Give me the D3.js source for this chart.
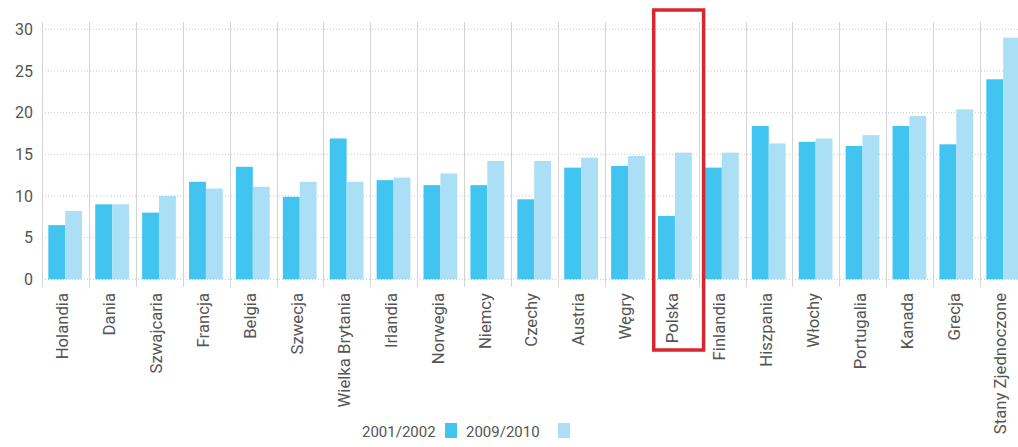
<!DOCTYPE html>
<html><head><meta charset="utf-8">
<script src="https://cdn.jsdelivr.net/npm/d3@7"></script>
<style>body{margin:0;background:#fff}svg{display:block}</style>
</head><body><svg id="c" width="1018" height="447"></svg>
<script>
const categories = ["Holandia","Dania","Szwajcaria","Francja","Belgia","Szwecja","Wielka Brytania","Irlandia","Norwegia","Niemcy","Czechy","Austria","Węgry","Polska","Finlandia","Hiszpania","Włochy","Portugalia","Kanada","Grecja","Stany Zjednoczone"];
const seriesNames = ["2001/2002","2009/2010"];
const values2001 = [6.5,9.0,8.0,11.7,13.5,9.9,16.9,11.9,11.3,11.3,9.6,13.4,13.6,7.6,13.4,18.4,16.5,16.0,18.4,16.2,24.0];
const values2009 = [8.2,9.0,10.0,10.9,11.1,11.7,11.7,12.2,12.7,14.2,14.2,14.6,14.8,15.2,15.2,16.3,16.9,17.3,19.6,20.4,29.0];
const yTicks = [0,5,10,15,20,25,30];
const highlight = "Polska";
const colors = ["#42c4f1","#abdff6"];
const FONT = "Roboto, 'Liberation Sans', sans-serif";

const svg = d3.select("#c");
const left = 42, bw = 46.9;
const x0 = d3.scaleBand().domain(categories).range([left, left + bw*categories.length]).padding(0);
const x1 = d3.scaleBand().domain(seriesNames).range([0.135*bw, 0.855*bw]).padding(0);
const y = d3.scaleLinear().domain([0,30]).range([279.3, 29.3]);

// horizontal dotted gridlines
svg.append("g").selectAll("line").data(yTicks).join("line")
  .attr("x1", left).attr("x2", 1018)
  .attr("y1", d=>y(d)).attr("y2", d=>y(d))
  .attr("stroke","#c8c8c8").attr("stroke-dasharray","1,2").attr("stroke-width",1);

// vertical separators
svg.append("g").selectAll("line").data(categories).join("line")
  .attr("x1", d=>Math.round(x0(d))+0.5).attr("x2", d=>Math.round(x0(d))+0.5)
  .attr("y1", 22).attr("y2", 287)
  .attr("stroke","#d4d4d4").attr("stroke-width",1);

// y axis labels
const yAxis = d3.axisLeft(y).tickValues(yTicks).tickSize(0).tickPadding(9);
const ya = svg.append("g").attr("transform",`translate(${left},0)`).call(yAxis);
ya.select(".domain").remove();
ya.selectAll("text").attr("font-family",FONT).attr("font-size",16).attr("fill","#555");

// bars
const series = [values2001, values2009];
const g = svg.append("g");
categories.forEach((c,i)=>{
  seriesNames.forEach((s,j)=>{
    g.append("rect")
      .attr("x", x0(c)+x1(s)).attr("width", x1.bandwidth())
      .attr("y", y(series[j][i])).attr("height", y(0)-y(series[j][i]))
      .attr("fill", colors[j]);
  });
});

// x labels
const xAxis = d3.axisBottom(x0).tickSize(0).tickPadding(0);
const xa = svg.append("g").attr("transform",`translate(0,293)`).call(xAxis);
xa.select(".domain").remove();
xa.selectAll("text")
  .attr("font-family",FONT).attr("font-size",16.7).attr("fill","#555")
  .attr("text-anchor","end").attr("dy",0).attr("y",0).attr("x",0)
  .attr("transform","rotate(-90) translate(0,3)");

// highlight box
svg.append("rect")
  .attr("x", x0(highlight)+2).attr("y", 10)
  .attr("width", bw+3).attr("height", 340)
  .attr("fill","none").attr("stroke","#d7262f").attr("stroke-width",3.5);

// legend
const lg = svg.append("g").attr("font-family",FONT).attr("font-size",15).attr("fill","#555");
lg.append("text").attr("x",362).attr("y",437).text(seriesNames[0]);
lg.append("rect").attr("x",445).attr("y",423).attr("width",12).attr("height",15).attr("fill",colors[0]);
lg.append("text").attr("x",466).attr("y",437).text(seriesNames[1]);
lg.append("rect").attr("x",558).attr("y",423).attr("width",12).attr("height",15).attr("fill",colors[1]);
</script></body></html>
